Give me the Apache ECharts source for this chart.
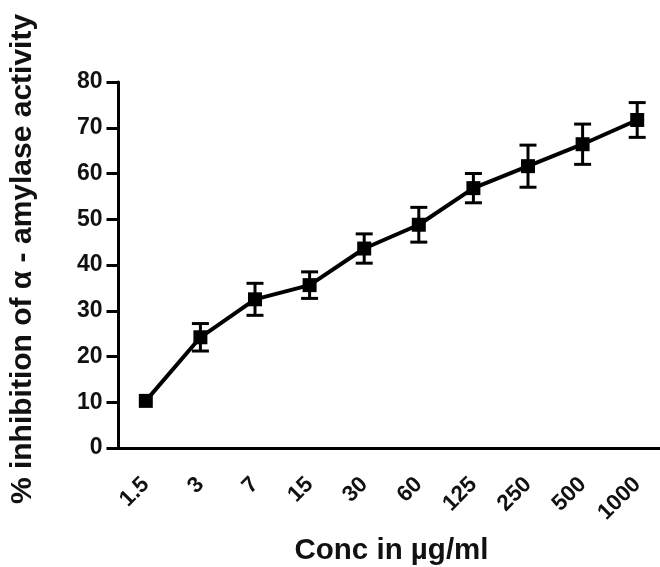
<!DOCTYPE html>
<html>
<head>
<meta charset="utf-8">
<script src="https://cdn.jsdelivr.net/npm/echarts@6/dist/echarts.min.js"></script>
<style>html,body{margin:0;padding:0;background:#fff}#c{width:660px;height:567px}</style>
</head>
<body>
<div id="c"></div>
<script>
var categories = ['1.5', '3', '7', '15', '30', '60', '125', '250', '500', '1000'];
var means = [10.3, 24.2, 32.5, 35.6, 43.6, 48.8, 56.8, 61.6, 66.4, 71.7];
var errors = [0, 3.0, 3.5, 2.9, 3.2, 3.8, 3.2, 4.6, 4.4, 3.8];
var yTicks = [0, 10, 20, 30, 40, 50, 60, 70, 80];

var FONT = '"Liberation Sans", Arial, sans-serif';
var chart = echarts.init(document.getElementById('c'), null, {renderer: 'canvas'});
var errData = categories.map(function (c, i) { return [i, means[i] - errors[i], means[i] + errors[i]]; });

chart.setOption({
  animation: false,
  backgroundColor: '#fff',
  grid: {left: 118.5, top: 82, width: 546, height: 366, containLabel: false, outerBoundsMode: 'none'},
  xAxis: {
    type: 'category',
    data: categories,
    boundaryGap: true,
    name: 'Conc in µg/ml',
    nameLocation: 'middle',
    nameGap: 88,
    nameTextStyle: {fontFamily: FONT, fontSize: 29.5, fontWeight: 'bold', color: '#111'},
    axisLine: {lineStyle: {color: '#000', width: 3}},
    axisTick: {alignWithLabel: true, length: 12, lineStyle: {color: '#000', width: 3}},
    axisLabel: {rotate: 45, margin: 33, fontFamily: FONT, fontSize: 22.5, fontWeight: 'bold', color: '#111', interval: 0},
    splitLine: {show: false}
  },
  yAxis: {
    type: 'value',
    min: yTicks[0],
    max: yTicks[yTicks.length - 1],
    interval: yTicks[1] - yTicks[0],
    name: '% inhibition of α - amylase activity',
    nameLocation: 'middle',
    nameGap: 81,
    nameTextStyle: {fontFamily: FONT, fontSize: 30, fontWeight: 'bold', color: '#111', padding: [0, 0, 0, 12]},
    axisLine: {show: true, lineStyle: {color: '#000', width: 3}},
    axisTick: {show: true, length: 12, lineStyle: {color: '#000', width: 3}},
    axisLabel: {margin: 16, fontFamily: FONT, fontSize: 23, fontWeight: 'bold', color: '#111'},
    splitLine: {show: false}
  },
  series: [
    {
      type: 'line',
      data: means,
      symbol: 'rect',
      symbolSize: 14,
      itemStyle: {color: '#000'},
      lineStyle: {color: '#000', width: 4},
      z: 3
    },
    {
      type: 'custom',
      data: errData,
      z: 4,
      renderItem: function (params, api) {
        var x = api.value(0);
        if (api.value(2) - api.value(1) <= 0) { return null; }
        var lo = api.coord([x, api.value(1)]);
        var hi = api.coord([x, api.value(2)]);
        var hw = 8.5;
        var st = {stroke: '#000', lineWidth: 3};
        return {
          type: 'group',
          children: [
            {type: 'line', shape: {x1: lo[0], y1: lo[1], x2: hi[0], y2: hi[1]}, style: st},
            {type: 'line', shape: {x1: lo[0] - hw, y1: lo[1], x2: lo[0] + hw, y2: lo[1]}, style: st},
            {type: 'line', shape: {x1: hi[0] - hw, y1: hi[1], x2: hi[0] + hw, y2: hi[1]}, style: st}
          ]
        };
      }
    }
  ]
});
</script>
</body>
</html>
